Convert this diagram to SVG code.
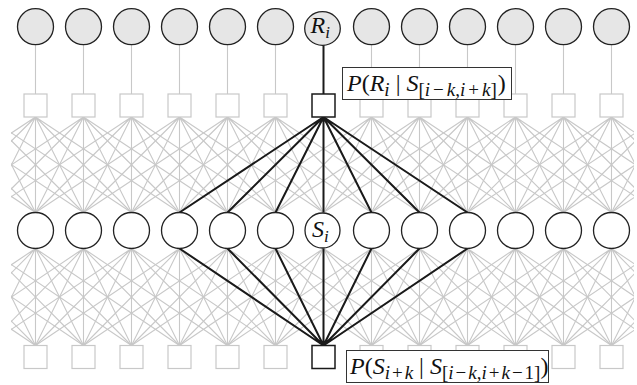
<svg xmlns="http://www.w3.org/2000/svg" xmlns:xlink="http://www.w3.org/1999/xlink" width="637" height="385" viewBox="0 0 637 385">
<style>
.lat{fill:none;stroke:#c8c8c8;stroke-width:1.1}
.blk{fill:none;stroke:#1a1a1a;stroke-width:2}
.rc{fill:#e6e6e6;stroke:#222;stroke-width:1.3}
.sc{fill:#fff;stroke:#222;stroke-width:1.3}
.gsq{fill:#fff;stroke:#c8c8c8;stroke-width:1.2}
.bsq{fill:#fff;stroke:#1a1a1a;stroke-width:1.5}
.box{fill:#fff;stroke:#333;stroke-width:1}
text{font-family:"Liberation Serif","Times New Roman",serif;fill:#111}
.it{font-style:italic}
</style>
<defs>
<clipPath id="clip"><rect x="11" y="0" width="623" height="385"/></clipPath>
<path id="fanT" d="M0 0l-144 95.5M0 0l-96 95.5M0 0l-48 95.5M0 0v95.5M0 0l48 95.5M0 0l96 95.5M0 0l144 95.5"/>
<path id="fanB" d="M0 0l-144 97M0 0l-96 97M0 0l-48 97M0 0v97M0 0l48 97M0 0l96 97M0 0l144 97"/>
</defs>
<g id="connectors">
<g class="lat" clip-path="url(#clip)">
<use xlink:href="#fanT" x="-108.5" y="117"/><use xlink:href="#fanT" x="-60.5" y="117"/><use xlink:href="#fanT" x="-12.5" y="117"/>
<use xlink:href="#fanT" x="35.5" y="117"/><use xlink:href="#fanT" x="83.5" y="117"/><use xlink:href="#fanT" x="131.5" y="117"/>
<use xlink:href="#fanT" x="179.5" y="117"/><use xlink:href="#fanT" x="227.5" y="117"/><use xlink:href="#fanT" x="275.5" y="117"/>
<use xlink:href="#fanT" x="323.5" y="117"/><use xlink:href="#fanT" x="371.5" y="117"/><use xlink:href="#fanT" x="419.5" y="117"/>
<use xlink:href="#fanT" x="467.5" y="117"/><use xlink:href="#fanT" x="515.5" y="117"/><use xlink:href="#fanT" x="563.5" y="117"/>
<use xlink:href="#fanT" x="611.5" y="117"/><use xlink:href="#fanT" x="659.5" y="117"/><use xlink:href="#fanT" x="707.5" y="117"/>
<use xlink:href="#fanT" x="755.5" y="117"/>
<use xlink:href="#fanB" x="-108.5" y="248.5"/><use xlink:href="#fanB" x="-60.5" y="248.5"/><use xlink:href="#fanB" x="-12.5" y="248.5"/>
<use xlink:href="#fanB" x="35.5" y="248.5"/><use xlink:href="#fanB" x="83.5" y="248.5"/><use xlink:href="#fanB" x="131.5" y="248.5"/>
<use xlink:href="#fanB" x="179.5" y="248.5"/><use xlink:href="#fanB" x="227.5" y="248.5"/><use xlink:href="#fanB" x="275.5" y="248.5"/>
<use xlink:href="#fanB" x="323.5" y="248.5"/><use xlink:href="#fanB" x="371.5" y="248.5"/><use xlink:href="#fanB" x="419.5" y="248.5"/>
<use xlink:href="#fanB" x="467.5" y="248.5"/><use xlink:href="#fanB" x="515.5" y="248.5"/><use xlink:href="#fanB" x="563.5" y="248.5"/>
<use xlink:href="#fanB" x="611.5" y="248.5"/><use xlink:href="#fanB" x="659.5" y="248.5"/><use xlink:href="#fanB" x="707.5" y="248.5"/>
<use xlink:href="#fanB" x="755.5" y="248.5"/>
</g>
<path class="lat" d="M35.5 44.7V94M83.5 44.7V94M131.5 44.7V94M179.5 44.7V94M227.5 44.7V94M275.5 44.7V94M371.5 44.7V94M419.5 44.7V94M467.5 44.7V94M515.5 44.7V94M563.5 44.7V94M611.5 44.7V94"/>
<path class="blk" d="M323.5 45V94"/>
<use xlink:href="#fanT" x="323.5" y="117" class="blk"/>
<path class="blk" d="M323.5 345.5L179.5 248.5M323.5 345.5L227.5 248.5M323.5 345.5L275.5 248.5M323.5 345.5V248.5M323.5 345.5L371.5 248.5M323.5 345.5L419.5 248.5M323.5 345.5L467.5 248.5"/>
</g>
<g id="R-row">
<circle class="rc" cx="35.5" cy="26.7" r="18"/><circle class="rc" cx="83.5" cy="26.7" r="18"/><circle class="rc" cx="131.5" cy="26.7" r="18"/>
<circle class="rc" cx="179.5" cy="26.7" r="18"/><circle class="rc" cx="227.5" cy="26.7" r="18"/><circle class="rc" cx="275.5" cy="26.7" r="18"/>
<circle class="rc" cx="371.5" cy="26.7" r="18"/><circle class="rc" cx="419.5" cy="26.7" r="18"/><circle class="rc" cx="467.5" cy="26.7" r="18"/>
<circle class="rc" cx="515.5" cy="26.7" r="18"/><circle class="rc" cx="563.5" cy="26.7" r="18"/><circle class="rc" cx="611.5" cy="26.7" r="18"/>
</g>
<g id="Ri">
<ellipse class="rc" cx="322.5" cy="28.5" rx="17.8" ry="16.8"/>
<text x="310.5" y="33" font-size="24"><tspan class="it">R</tspan><tspan class="it" font-size="17" dy="5">i</tspan></text>
</g>
<g id="top-factors">
<rect class="gsq" x="24" y="94" width="23" height="23"/><rect class="gsq" x="72" y="94" width="23" height="23"/><rect class="gsq" x="120" y="94" width="23" height="23"/>
<rect class="gsq" x="168" y="94" width="23" height="23"/><rect class="gsq" x="216" y="94" width="23" height="23"/><rect class="gsq" x="264" y="94" width="23" height="23"/>
<rect class="gsq" x="360" y="94" width="23" height="23"/><rect class="gsq" x="408" y="94" width="23" height="23"/><rect class="gsq" x="456" y="94" width="23" height="23"/>
<rect class="gsq" x="504" y="94" width="23" height="23"/><rect class="gsq" x="552" y="94" width="23" height="23"/><rect class="gsq" x="600" y="94" width="23" height="23"/>
</g>
<g id="top-factor-i"><rect class="bsq" x="312" y="94" width="23" height="23"/></g>
<g id="S-row">
<circle class="sc" cx="35.5" cy="230.5" r="18"/><circle class="sc" cx="83.5" cy="230.5" r="18"/><circle class="sc" cx="131.5" cy="230.5" r="18"/>
<circle class="sc" cx="179.5" cy="230.5" r="18"/><circle class="sc" cx="227.5" cy="230.5" r="18"/><circle class="sc" cx="275.5" cy="230.5" r="18"/>
<circle class="sc" cx="371.5" cy="230.5" r="18"/><circle class="sc" cx="419.5" cy="230.5" r="18"/><circle class="sc" cx="467.5" cy="230.5" r="18"/>
<circle class="sc" cx="515.5" cy="230.5" r="18"/><circle class="sc" cx="563.5" cy="230.5" r="18"/><circle class="sc" cx="611.5" cy="230.5" r="18"/>
</g>
<g id="Si">
<circle class="sc" cx="322.5" cy="230.5" r="17.5"/>
<text x="312" y="237" font-size="24"><tspan class="it">S</tspan><tspan class="it" font-size="17" dy="5">i</tspan></text>
</g>
<g id="bottom-factors">
<rect class="gsq" x="24" y="345.5" width="23" height="23"/><rect class="gsq" x="72" y="345.5" width="23" height="23"/><rect class="gsq" x="120" y="345.5" width="23" height="23"/>
<rect class="gsq" x="168" y="345.5" width="23" height="23"/><rect class="gsq" x="216" y="345.5" width="23" height="23"/><rect class="gsq" x="264" y="345.5" width="23" height="23"/>
<rect class="gsq" x="360" y="345.5" width="23" height="23"/><rect class="gsq" x="408" y="345.5" width="23" height="23"/><rect class="gsq" x="456" y="345.5" width="23" height="23"/>
<rect class="gsq" x="504" y="345.5" width="23" height="23"/><rect class="gsq" x="552" y="345.5" width="23" height="23"/><rect class="gsq" x="600" y="345.5" width="23" height="23"/>
</g>
<g id="bottom-factor-i"><rect class="bsq" x="312" y="345.5" width="23" height="23"/></g>
<g id="label-top">
<rect class="box" x="342.5" y="67.5" width="169" height="32"/>
<text x="347" y="90.5" font-size="24"><tspan class="it">P</tspan>(<tspan class="it">R</tspan><tspan class="it" font-size="19" dy="5">i</tspan><tspan dy="-5"> | </tspan><tspan class="it">S</tspan><tspan font-size="19" dy="5">[<tspan class="it">i</tspan><tspan dx="3">−</tspan><tspan class="it" dx="3">k</tspan>,<tspan class="it">i</tspan><tspan dx="3">+</tspan><tspan class="it" dx="3">k</tspan>]</tspan><tspan dy="-5" dx="1">)</tspan></text>
</g>
<g id="label-bottom">
<rect class="box" x="346.5" y="350.5" width="202" height="32"/>
<text x="350" y="373.5" font-size="24"><tspan class="it">P</tspan>(<tspan class="it">S</tspan><tspan font-size="19" dy="5"><tspan class="it">i</tspan><tspan dx="2">+</tspan><tspan class="it" dx="2">k</tspan></tspan><tspan dy="-5"> | </tspan><tspan class="it">S</tspan><tspan font-size="19" dy="5">[<tspan class="it">i</tspan><tspan dx="2">−</tspan><tspan class="it" dx="2">k</tspan>,<tspan class="it">i</tspan><tspan dx="2">+</tspan><tspan class="it" dx="2">k</tspan><tspan dx="2">−</tspan><tspan dx="2">1</tspan>]</tspan><tspan dy="-5">)</tspan></text>
</g>
</svg>
